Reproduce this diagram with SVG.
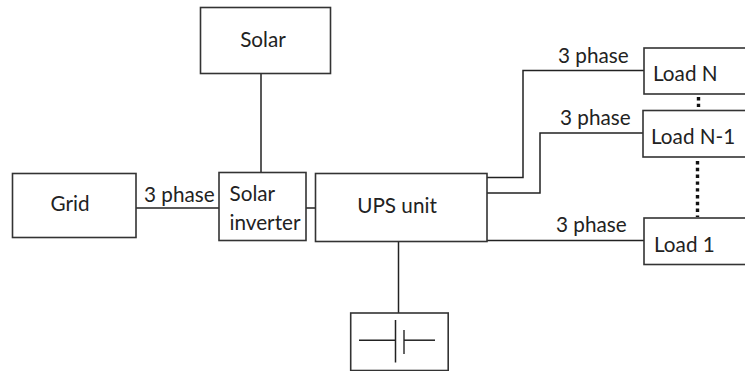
<svg xmlns="http://www.w3.org/2000/svg" width="745" height="371" viewBox="0 0 745 371">
<style>
.b{fill:#fff;stroke:#333;stroke-width:1.6}
.c{fill:none;stroke:#222;stroke-width:1.5}
.d{fill:none;stroke:#111;stroke-width:3.4;stroke-dasharray:3.4 3.4}
text{font-family:Lato,"Open Sans",sans-serif;font-size:20.7px;fill:#222}
</style>
<rect width="745" height="371" fill="#fff"/>
<g id="connectors">
<path class="c" d="M261 73.500V172.500"/>
<path class="c" d="M136 208H219"/>
<path class="c" d="M305.500 208H315.500"/>
<path class="c" d="M398.500 242V313"/>
<path class="c" d="M487 177.500H523V70.500H644"/>
<path class="c" d="M487 193H540V133H643"/>
<path class="c" d="M487 240.500H644"/>
<path class="d" d="M698.500 97V107"/>
<path class="d" d="M697.500 161V217"/>
</g>
<g id="solar"><rect class="b" x="200.500" y="7.500" width="130" height="66"/><text x="263" y="47" text-anchor="middle">Solar</text></g>
<g id="grid"><rect class="b" x="12.500" y="173.500" width="123.500" height="64"/><text x="70" y="211" text-anchor="middle">Grid</text></g>
<g id="inverter"><rect class="b" x="219" y="172.500" width="87" height="68"/><text x="229.500" y="201">Solar</text><text x="229.500" y="230">inverter</text></g>
<g id="ups"><rect class="b" x="315.500" y="173.500" width="171.500" height="68"/><text x="397" y="213" text-anchor="middle">UPS unit</text></g>
<g id="battery"><rect class="b" x="350.700" y="313" width="97.500" height="57.500"/><path class="c" d="M359 340.200H395.500M395.500 320V362.500"/><path d="M404 330V354" stroke="#666" stroke-width="2" fill="none"/><path class="c" d="M404 340.200H435"/></g>
<g id="load-n"><rect class="b" x="644" y="48" width="110" height="46"/><text x="653" y="81">Load N</text></g>
<g id="load-n-1"><rect class="b" x="643" y="110.500" width="110" height="46.500"/><text x="651" y="144">Load N-1</text></g>
<g id="load-1"><rect class="b" x="644" y="218" width="110" height="46.500"/><text x="654" y="252">Load 1</text></g>
<g id="labels">
<text x="144" y="202">3 phase</text>
<text x="558" y="63">3 phase</text>
<text x="560" y="125">3 phase</text>
<text x="556" y="232">3 phase</text>
</g>
</svg>
